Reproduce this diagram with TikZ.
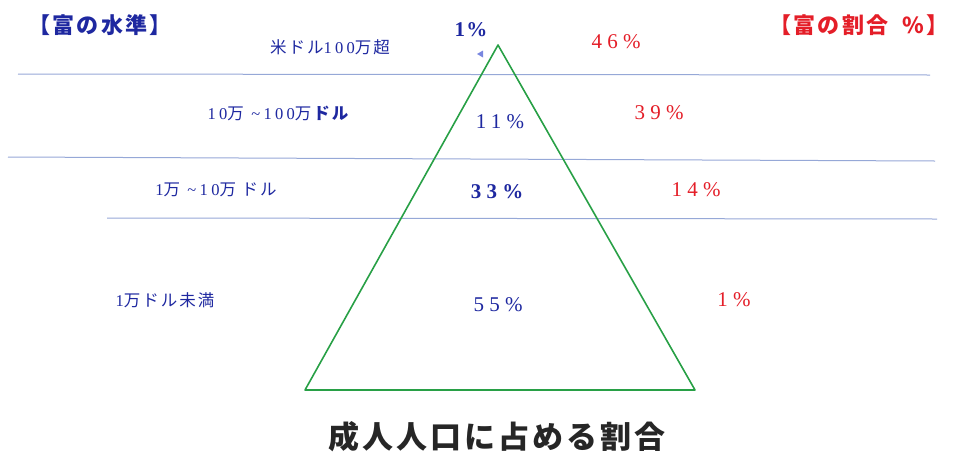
\documentclass[tikz,border=0pt]{standalone}
\usepackage{fontspec}
\setmainfont{Liberation Serif}
\newfontfamily\cjk[LetterSpace=12]{Noto Sans CJK JP}
\newfontfamily\cjkh[LetterSpace=10]{Noto Sans CJK JP}
\newfontfamily\numl[LetterSpace=20]{Liberation Serif}
\newfontfamily\nump[LetterSpace=25]{Liberation Serif}
\newfontfamily\numt[LetterSpace=5]{Liberation Serif}
\definecolor{txtblue}{RGB}{30,40,160}
\definecolor{txtred}{RGB}{228,30,40}
\definecolor{lineblue}{RGB}{150,168,215}
\definecolor{pyrgreen}{RGB}{40,160,70}
\begin{document}
\begin{tikzpicture}[x=1pt,y=-1pt,
  bluetxt/.style={text=txtblue, font=#1},
  redtxt/.style={text=txtred, font=#1},
  sep/.style={draw=lineblue, line width=1pt},
  pyr/.style={draw=pyrgreen, line width=1.6pt}]
\useasboundingbox (0,0) rectangle (957,453);
% separators
\coordinate (l1a) at (18,74); \coordinate (l1b) at (930,75);
\coordinate (l2a) at (8,157); \coordinate (l2b) at (935,161);
\coordinate (l3a) at (107,218); \coordinate (l3b) at (937,219);
\draw[sep] (l1a) -- (l1b);
\draw[sep] (l2a) -- (l2b);
\draw[sep] (l3a) -- (l3b);
% pyramid
\coordinate (apex) at (498,45);
\coordinate (bl) at (305,390);
\coordinate (br) at (695,390);
\draw[pyr, line join=round] (apex) -- (br) -- (bl) -- cycle;
% small marker
\fill[lineblue!80!blue] (477,54) -- (483,50.5) -- (483,57.5) -- cycle;
% headers
\node[bluetxt=\fontsize{22}{22}\cjkh\bfseries] (h1) at (100,25) {【富の水準】};
\node[redtxt=\fontsize{22}{22}\cjkh\bfseries] (h2) at (859,25) {【富の割合\ \ \%】};
% level labels
\node[bluetxt=\fontsize{16.5}{16.5}\cjk] (w1) at (330,47) {米ドル{\numl 100}万超};
\node[bluetxt=\fontsize{16.5}{16.5}\cjk] (w2) at (279,113) {{\numl 10}万{\numl\ \textasciitilde 100}万\textbf{ドル}};
\node[bluetxt=\fontsize{16.5}{16.5}\cjk] (w3) at (216,190) {{\numl 1}万{\numl\ \textasciitilde 10}万 ドル};
\node[bluetxt=\fontsize{16.5}{16.5}\cjk] (w4) at (165,300) {{\numl 1}万ドル未満};
% population shares
\node[bluetxt=\fontsize{21}{21}\numt\bfseries] (p1) at (471,30) {1\%};
\node[bluetxt=\fontsize{21}{21}\nump] (p2) at (500,122) {11\%};
\node[bluetxt=\fontsize{21}{21}\nump\bfseries] (p3) at (497,192) {33\%};
\node[bluetxt=\fontsize{21}{21}\nump] (p4) at (498,305) {55\%};
% wealth shares
\node[redtxt=\fontsize{21}{21}\nump] (r1) at (616,42) {46\%};
\node[redtxt=\fontsize{21}{21}\nump] (r2) at (659,113) {39\%};
\node[redtxt=\fontsize{21}{21}\nump] (r3) at (696,190) {14\%};
\node[redtxt=\fontsize{21}{21}\nump] (r4) at (734,300) {1\%};
% footer
\node[font=\fontsize{31}{31}\cjkh\bfseries, text=black!85] (foot) at (497,437) {成人人口に占める割合};
\end{tikzpicture}
\end{document}
